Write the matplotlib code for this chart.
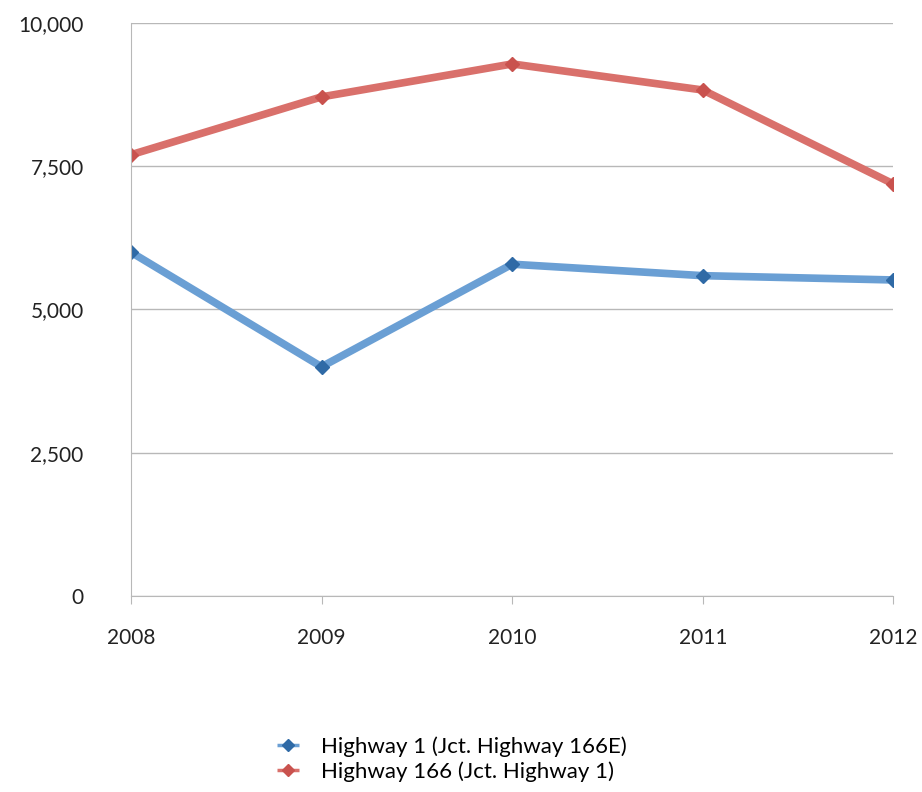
import matplotlib.pyplot as plt
from matplotlib.ticker import FuncFormatter

years = ['2008', '2009', '2010', '2011', '2012']
hwy1 = [6000, 4000, 5790, 5590, 5515]
hwy166 = [7700, 8710, 9285, 8830, 7190]
labels = ['Highway 1 (Jct. Highway 166E)', 'Highway 166 (Jct. Highway 1)']

plt.rcParams['font.family'] = ['Lato', 'DejaVu Sans']

fig = plt.figure(figsize=(9.22, 7.92), dpi=100)
ax = fig.add_axes([0.142, 0.2475, 0.827, 0.7235])

x = range(len(years))
ax.plot(x, hwy1, color='#6a9fd4', linewidth=5.5, marker='D', markersize=7,
        markerfacecolor='#2f6aa6', markeredgecolor='#2f6aa6', label=labels[0],
        solid_capstyle='butt')
ax.plot(x, hwy166, color='#d9706b', linewidth=5.5, marker='D', markersize=7,
        markerfacecolor='#c9524e', markeredgecolor='#c9524e', label=labels[1],
        solid_capstyle='butt')

ax.set_xlim(0, len(years) - 1)
ax.set_ylim(0, 10000)
ax.set_yticks([0, 2500, 5000, 7500, 10000])
ax.yaxis.set_major_formatter(FuncFormatter(lambda v, p: f'{int(v):,}'))
ax.set_xticks(list(x))
ax.set_xticklabels(years)

ax.grid(axis='y', color='#b8b8b8', linewidth=1)
ax.set_axisbelow(True)
for s in ['top', 'right']:
    ax.spines[s].set_visible(False)
ax.spines['left'].set_color('#b8b8b8')
ax.spines['bottom'].set_color('#b8b8b8')
ax.tick_params(axis='y', length=0, labelsize=15, pad=34, colors='#222222')
ax.tick_params(axis='x', length=6, color='#b8b8b8', labelsize=15, pad=17,
               labelcolor='#222222')

leg = fig.legend(loc='center', bbox_to_anchor=(0.49, 0.042), frameon=False,
                 fontsize=16, handlelength=1.0, handletextpad=1.0,
                 labelspacing=0.2)
for h in leg.get_lines():
    h.set_linewidth(2.5)
    h.set_markersize(6)

fig.savefig('out.png', dpi=100)
